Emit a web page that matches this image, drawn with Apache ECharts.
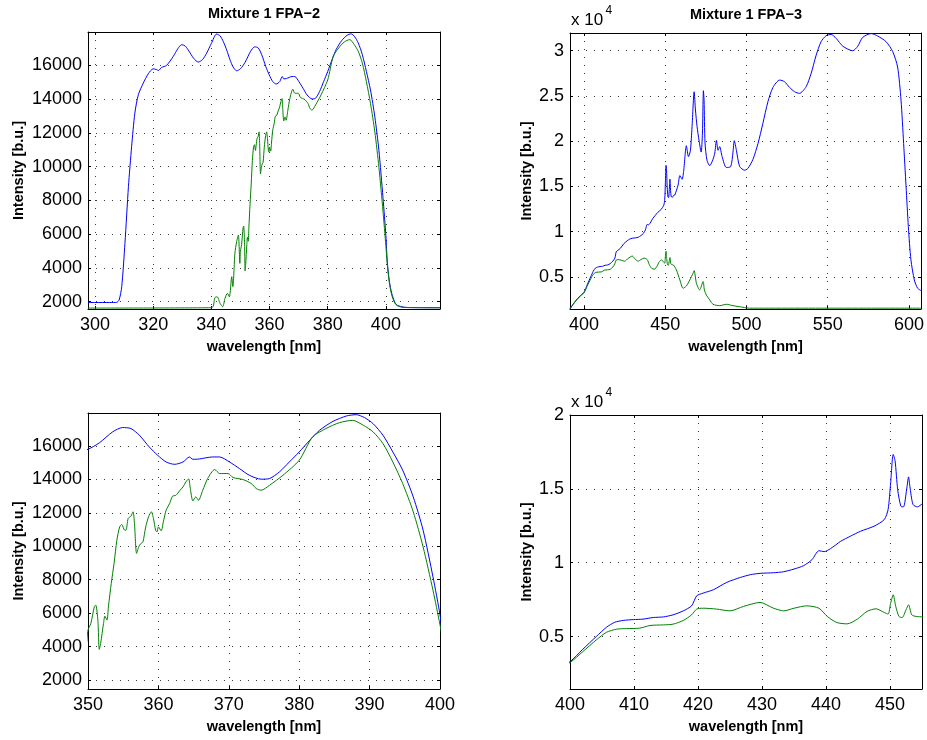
<!DOCTYPE html>
<html><head><meta charset="utf-8">
<script src="https://cdn.jsdelivr.net/npm/echarts@6/dist/echarts.min.js"></script>
<style>html,body{margin:0;padding:0;background:#fff}#c{width:927px;height:740px}</style>
</head><body><div id="c"></div>
<script>
// ---------- FPA-2 (wavelength nm, intensity b.u.) ----------
const fpa2BlueWl = [297.6,300,305,307.5,308.3,309.2,310.3,311.5,312.6,313.7,314.9,316.6,318.3,320,321.2,321.8,322.9,324.6,326.9,328.5,329.8,331,332,334,335.5,337,338.4,340,341.8,343,344.1,345.3,346.4,347.5,348.7,350,351.6,353.5,354.9,356.1,357.3,358.7,359.9,361.1,362.3,363.5,364.4,364.9,365.8,367.7,368.7,370.1,371.5,372.9,374.6,375.8,377.2,378.6,380,381.5,382.9,384.8,386.7,388.1,389.3,390.5,391.9,393.3,394.7,396.2,397.6,399,400,400.5,401.2,402,403.1,404,406,408,418.6];
const fpa2Blue = [1950,1950,1950,1960,2100,2890,5460,8820,11200,13170,14260,14950,15500,15800,15750,15700,15880,16000,16530,17000,17230,17150,16930,16400,16200,16350,16730,17300,17860,17750,17420,16900,16340,15900,15680,15800,16180,16840,17100,17040,16640,15940,15440,15040,14900,15040,15340,15200,15220,15340,15340,15040,14650,14250,14010,14050,14450,15040,15640,16340,16940,17470,17790,17870,17690,17330,16640,15640,14550,12950,10960,8170,5900,4300,3200,2500,1950,1780,1680,1650,1640];
const fpa2GreenWl = [297.6,340.1,340.7,341.2,342,343,343.9,344.7,345.5,346.2,347,347.4,348.1,348.7,349.3,349.8,350,350.4,350.9,351.1,351.4,351.6,351.8,352.2,352.4,352.7,352.9,353.3,353.7,354.1,354.5,354.8,355.2,355.4,355.7,356.1,356.4,356.6,356.9,357.2,357.5,357.8,358.2,358.6,359,359.3,359.6,359.8,360,360.4,360.7,361.1,361.6,362,362.5,363,363.5,363.9,364.3,364.5,364.9,365.3,365.7,366.3,367,368,368.7,369.9,370.6,372,373.2,373.9,374.6,375.8,377.7,380,381.9,383.8,385.7,387.6,389.1,390.5,391.9,393.3,394.7,396.2,397.6,399,400,400.5,401.2,402,403.1,404,406,418.6];
const fpa2Green = [1620,1640,1750,2230,2290,1900,1700,2200,2490,2290,3480,2890,4870,5560,5950,4270,4990,5380,6380,6480,5580,3830,4190,5380,5820,5580,6380,7770,8970,10360,11160,11300,10960,10960,11660,11800,12060,11360,9570,9960,10160,10260,11160,11760,12060,11660,10960,10860,11160,10920,11460,12160,12560,12990,13050,13310,13550,13850,14030,13550,12710,12950,12750,13350,14050,14590,14350,14350,14110,13990,13750,13450,13350,13650,14250,15140,16540,17040,17390,17530,17240,16840,16140,15040,13750,12060,9960,7370,5300,4200,3100,2400,1900,1750,1660,1640];

// ---------- FPA-3 (wavelength nm, intensity x 10^4 b.u.) ----------
const fpa3BlueWl = [391.4,393,395,397,398.5,400,402,404.1,405.7,407,408.3,409.9,411.4,413,414.6,416.1,417.7,419,419.8,420.8,422.4,424.5,426.6,428.2,429.7,431.8,433.4,435,436.5,437.8,438.9,439.7,440.7,442.3,443.8,445.4,447.5,449.1,449.7,450.1,450.5,450.8,451.2,451.7,452.1,452.6,452.9,453.1,453.6,454.3,455.1,455.9,457.9,459,460.4,461.4,463,464.3,465.5,466.5,467.8,468.6,469.6,470.8,472.1,472.9,473.5,473.9,474.5,475.7,477.4,479.4,480.5,481.5,482.5,483.5,485,487.6,490.3,491.7,492.5,493.8,495.8,498.9,500.9,504,507.1,510.1,513.2,516.3,520.4,523.4,526.5,529.6,532.6,536.7,539.8,542.9,545.9,549,552.1,555.2,559.3,565.4,568.5,571.5,576.7,580.8,585.9,590,593,595.1,596.7,598.2,599.6,601.2,603.3,605.3,607.4];
const fpa3Blue = [0.146,0.19,0.24,0.28,0.305,0.33,0.414,0.5,0.563,0.597,0.609,0.615,0.618,0.629,0.633,0.647,0.674,0.708,0.776,0.794,0.817,0.867,0.9,0.919,0.928,0.932,0.939,0.957,0.98,1.02,1.081,1.075,1.095,1.145,1.179,1.213,1.247,1.292,1.36,1.541,1.733,1.688,1.495,1.382,1.378,1.495,1.581,1.518,1.394,1.378,1.4,1.406,1.516,1.62,1.58,1.68,1.95,1.83,1.9,2.16,2.547,2.345,2.16,2.01,1.88,2.09,2.558,2.455,1.98,1.79,1.73,1.8,1.87,2.01,1.9,1.94,1.83,1.71,1.72,1.88,2.006,1.9,1.72,1.68,1.7,1.8,1.976,2.197,2.437,2.595,2.676,2.658,2.595,2.547,2.529,2.602,2.75,2.952,3.1,3.166,3.18,3.136,3.05,3.0,3.05,3.147,3.19,3.162,3.1,2.99,2.82,2.455,1.976,1.5,1.056,0.688,0.467,0.375,0.35];
const fpa3GreenWl = [391.4,393,395,397,398.5,400,402,404.1,405.7,407.3,408.8,410.9,412.5,414.6,416.1,417.7,419,419.8,420.8,422.9,425,427.1,429.7,431.8,433.4,435,437,438.9,440.2,441.7,443.3,444.9,446.4,447.8,449.1,449.7,450.1,450.5,450.9,451.4,451.9,452.5,452.9,453.4,454.1,455.1,456.9,459,461,463,465.1,467.1,467.8,469.2,471.2,473.3,474.1,475.3,477.4,479.4,483.5,487.6,491.7,497.8,501.9,607.4];
const fpa3Green = [0.146,0.19,0.235,0.275,0.3,0.324,0.398,0.477,0.529,0.55,0.554,0.557,0.575,0.579,0.584,0.609,0.647,0.686,0.692,0.686,0.674,0.704,0.731,0.692,0.674,0.692,0.708,0.692,0.636,0.595,0.586,0.618,0.67,0.688,0.663,0.652,0.726,0.783,0.704,0.636,0.629,0.681,0.715,0.647,0.636,0.631,0.577,0.467,0.375,0.4,0.467,0.54,0.57,0.43,0.357,0.45,0.357,0.3,0.246,0.198,0.183,0.198,0.183,0.165,0.155,0.155];

// ---------- ticks ----------
const fpa2XTicks = [300,320,340,360,380,400];
const fpa2YTicks = [2000,4000,6000,8000,10000,12000,14000,16000];
const fpa2ZoomXTicks = [350,360,370,380,390,400];
const fpa3XTicks = [400,450,500,550,600];
const fpa3YTicks = [0.5,1,1.5,2,2.5,3];
const fpa3ZoomXTicks = [400,410,420,430,440,450];
const fpa3ZoomYTicks = [0.5,1,1.5,2];

const titles = ['Mixture 1 FPA\u22122', 'Mixture 1 FPA\u22123'];
const xName = 'wavelength [nm]';
const yName = 'Intensity [b.u.]';

const FONT = 'Liberation Sans, Arial, Helvetica, sans-serif';
const pairs = (wl, v) => wl.map((x, i) => [x, v[i]]);
const plain = v => String(+v.toFixed(4));

const panels = [
  {grid:{left:88, top:32, width:352, height:277}, x:[297.6,418.6], y:[1565,17980], xt:fpa2XTicks, yt:fpa2YTicks, nameGap:62, title:titles[0], b:pairs(fpa2BlueWl,fpa2Blue), g:pairs(fpa2GreenWl,fpa2Green)},
  {grid:{left:570, top:33, width:352, height:276}, x:[391.4,607.4], y:[0.146,3.196], xt:fpa3XTicks, yt:fpa3YTicks, nameGap:36, title:titles[1], exp:true, b:pairs(fpa3BlueWl,fpa3Blue), g:pairs(fpa3GreenWl,fpa3Green)},
  {grid:{left:88, top:413, width:352, height:276}, x:[350,400], y:[1460,17970], xt:fpa2ZoomXTicks, yt:fpa2YTicks, nameGap:62, b:pairs(fpa2BlueWl,fpa2Blue), g:pairs(fpa2GreenWl,fpa2Green)},
  {grid:{left:570, top:415, width:352, height:274}, x:[400,455], y:[0.145,2.0], xt:fpa3ZoomXTicks, yt:fpa3ZoomYTicks, nameGap:36, exp:true, b:pairs(fpa3BlueWl,fpa3Blue), g:pairs(fpa3GreenWl,fpa3Green)}
];

const grids = [], xAxes = [], yAxes = [], series = [], graphics = [];
const split = {show:true, lineStyle:{color:'#3a3a3a', width:1, type:[1,7]}};
const axLine = {show:true, onZero:false, lineStyle:{color:'#000', width:1}};
panels.forEach((p, i) => {
  grids.push(Object.assign({containLabel:false}, p.grid));
  const tick = {show:true, inside:true, length:3, lineStyle:{color:'#000'}, customValues:p.xt};
  xAxes.push({type:'value', gridIndex:i, position:'bottom', min:p.x[0], max:p.x[1],
    axisLine:axLine, axisTick:tick, splitLine:split,
    axisLabel:{show:true, customValues:p.xt, formatter:plain, margin:7, color:'#000', fontSize:18, fontFamily:FONT},
    name:xName, nameLocation:'middle', nameGap:30,
    nameTextStyle:{color:'#000', fontSize:14.5, fontWeight:'bold', fontFamily:FONT}});
  xAxes.push({type:'value', gridIndex:i, position:'top', min:p.x[0], max:p.x[1],
    axisLine:axLine, axisTick:Object.assign({}, tick), splitLine:{show:false}, axisLabel:{show:false}});
  const ytick = {show:true, inside:true, length:3, lineStyle:{color:'#000'}, customValues:p.yt};
  yAxes.push({type:'value', gridIndex:i, position:'left', min:p.y[0], max:p.y[1],
    axisLine:axLine, axisTick:ytick, splitLine:split,
    axisLabel:{show:true, customValues:p.yt, formatter:plain, margin:6, color:'#000', fontSize:18, fontFamily:FONT},
    name:yName, nameLocation:'middle', nameGap:p.nameGap, nameRotate:90,
    nameTextStyle:{color:'#000', fontSize:14.5, fontWeight:'bold', fontFamily:FONT}});
  yAxes.push({type:'value', gridIndex:i, position:'right', min:p.y[0], max:p.y[1],
    axisLine:axLine, axisTick:Object.assign({}, ytick), splitLine:{show:false}, axisLabel:{show:false}});
  series.push({type:'line', xAxisIndex:2*i, yAxisIndex:2*i, data:p.b, showSymbol:false, symbol:'none',
    smooth:0.25, clip:true, lineStyle:{color:'#0000ff', width:1}, itemStyle:{color:'#0000ff'}, silent:true});
  series.push({type:'line', xAxisIndex:2*i, yAxisIndex:2*i, data:p.g, showSymbol:false, symbol:'none',
    smooth:0.25, clip:true, lineStyle:{color:'#008000', width:1}, itemStyle:{color:'#008000'}, silent:true});
  if (p.title) {
    graphics.push({type:'text', x:p.grid.left + p.grid.width/2, y:p.grid.top - 18,
      style:{text:p.title, align:'center', verticalAlign:'middle', fill:'#000',
        fontSize:14.5, fontWeight:'bold', fontFamily:FONT}});
  }
  if (p.exp) {
    graphics.push({type:'text', x:p.grid.left + 1, y:p.grid.top - 13,
      style:{text:'x 10', align:'left', verticalAlign:'middle', fill:'#000', fontSize:17, fontFamily:FONT}});
    graphics.push({type:'text', x:p.grid.left + 35.5, y:p.grid.top - 22,
      style:{text:'4', align:'left', verticalAlign:'middle', fill:'#000', fontSize:12, fontFamily:FONT}});
  }
});

const chart = echarts.init(document.getElementById('c'), null, {renderer:'canvas'});
chart.setOption({
  animation:false,
  backgroundColor:'#ffffff',
  grid:grids, xAxis:xAxes, yAxis:yAxes, series:series, graphic:graphics
});
</script>
</body></html>
